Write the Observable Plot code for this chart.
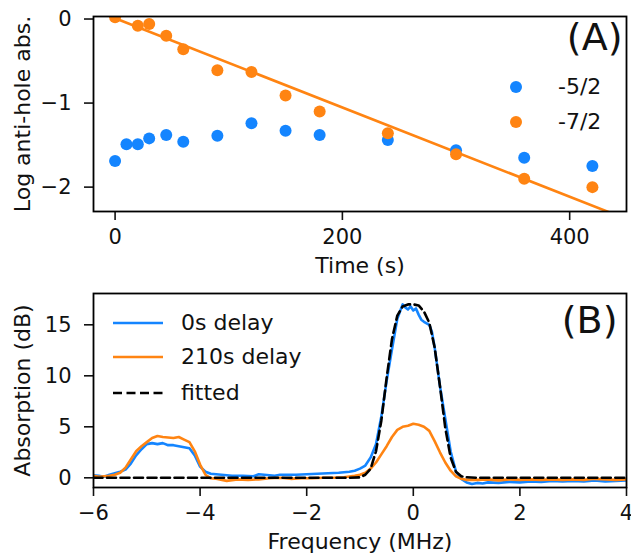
<!DOCTYPE html>
<html><head><meta charset="utf-8">
<script src="https://cdn.jsdelivr.net/npm/d3@7"></script>
<script src="https://cdn.jsdelivr.net/npm/@observablehq/plot@0.6"></script>
<style>
body{margin:0;background:#fff;font-family:"DejaVu Sans",sans-serif;}
#wrap{position:relative;width:631px;height:556px;overflow:hidden;background:#fff;}
#wrap svg{display:block;}
.leg{position:absolute;font-size:22px;color:#111;line-height:1;white-space:nowrap;}
.leg svg{position:absolute;overflow:visible;}
</style></head><body><div id="wrap"></div>
<script>
// ---------- Panel (A) data ----------
const timeBlue = [0,10,20,30,45,60,90,120,150,180,240,300,360,420];
const absBlue  = [-1.69,-1.49,-1.49,-1.42,-1.38,-1.46,-1.39,-1.24,-1.33,-1.38,-1.44,-1.56,-1.65,-1.75];
const timeOrange = [0,20,30,45,60,90,120,150,180,240,300,360,420];
const absOrange  = [0.02,-0.08,-0.06,-0.20,-0.36,-0.61,-0.63,-0.91,-1.10,-1.36,-1.61,-1.90,-2.00];
const fitTime = [0,450];
const fitAbs  = [0.01,-2.38];
const seriesA = ["-5/2","-7/2"];

// ---------- Panel (B) data ----------
const freq0 = [-6.0,-5.9,-5.8,-5.7,-5.6,-5.5,-5.4,-5.3,-5.2,-5.1,-5.0,-4.9,-4.8,-4.7,-4.6,-4.5,-4.4,-4.3,-4.2,-4.1,-4.0,-3.9,-3.8,-3.7,-3.6,-3.5,-3.4,-3.2,-3.0,-2.9,-2.8,-2.6,-2.5,-2.4,-2.2,-2.0,-1.8,-1.6,-1.4,-1.3,-1.2,-1.1,-1.0,-0.9,-0.8,-0.7,-0.6,-0.5,-0.4,-0.3,-0.2,-0.15,-0.1,-0.05,0.0,0.05,0.1,0.15,0.2,0.3,0.35,0.4,0.5,0.6,0.7,0.8,0.9,1.0,1.1,1.2,1.3,1.4,1.6,1.8,2.0,2.2,2.4,2.6,2.8,3.0,3.2,3.4,3.6,3.8,4.0];
const abs0  = [0.25,0.2,0.1,0.3,0.45,0.6,0.8,1.4,2.2,2.8,3.3,3.4,3.3,3.4,3.2,3.2,3.1,3.0,2.9,2.2,1.1,0.6,0.4,0.35,0.3,0.25,0.2,0.2,0.15,0.35,0.3,0.2,0.3,0.3,0.3,0.35,0.4,0.45,0.5,0.55,0.6,0.7,0.9,1.2,2.0,3.3,6.0,9.5,12.6,15.6,17.0,16.7,16.5,16.8,16.4,16.6,16.0,15.5,15.3,15.0,14.3,12.8,9.0,5.8,2.6,0.6,-0.1,-0.45,-0.6,-0.5,-0.55,-0.45,-0.5,-0.4,-0.45,-0.35,-0.4,-0.3,-0.35,-0.3,-0.35,-0.25,-0.35,-0.3,-0.25];
const freq210 = [-6.0,-5.9,-5.8,-5.7,-5.6,-5.5,-5.4,-5.3,-5.2,-5.1,-5.0,-4.9,-4.8,-4.7,-4.6,-4.5,-4.4,-4.3,-4.2,-4.1,-4.0,-3.9,-3.8,-3.7,-3.5,-3.3,-3.1,-2.9,-2.7,-2.5,-2.3,-2.1,-1.9,-1.7,-1.5,-1.3,-1.1,-1.0,-0.9,-0.8,-0.7,-0.6,-0.5,-0.4,-0.3,-0.2,-0.1,0.0,0.1,0.2,0.3,0.4,0.5,0.6,0.7,0.8,0.9,1.0,1.2,1.4,1.6,1.8,2.0,2.2,2.4,2.6,2.8,3.0,3.2,3.4,3.6,3.8,4.0];
const abs210  = [0.2,0.1,0.15,0.2,0.3,0.5,1.0,1.8,2.6,3.1,3.5,3.9,4.1,4.0,3.95,3.9,4.0,3.75,3.5,2.6,1.3,0.3,-0.05,-0.1,-0.3,-0.15,-0.2,-0.15,-0.05,0.0,-0.1,-0.05,-0.05,0.0,0.0,0.05,0.2,0.3,0.5,0.9,1.5,2.3,3.1,4.0,4.7,5.0,5.1,5.3,5.2,5.0,4.6,3.6,2.5,1.5,0.7,0.15,-0.1,-0.2,-0.2,-0.15,-0.25,-0.15,-0.2,-0.15,-0.2,-0.15,-0.2,-0.15,-0.2,-0.1,-0.15,-0.2,-0.15];
const freqFit = [-6.0,-1.2,-1.0,-0.9,-0.8,-0.7,-0.6,-0.5,-0.4,-0.3,-0.2,-0.1,0.0,0.1,0.2,0.3,0.4,0.5,0.6,0.7,0.8,0.9,1.0,1.2,4.0];
const absFit  = [0,0,0.05,0.3,0.9,2.6,5.6,9.8,13.6,15.9,16.8,17.0,17.0,16.9,16.3,15.2,12.8,9.0,4.9,2.0,0.6,0.15,0.05,0,0];
const seriesB = ["0s delay","210s delay","fitted"];

const ticksTime = [0,200,400];
const ticksLogAbs = [-2,-1,0];
const ticksFreq = [-6,-4,-2,0,2,4];
const ticksAbsorp = [0,5,10,15];

const BLUE = "#1485ff", ORANGE = "#ff8412";
const zip = (xs, ys) => xs.map((x, i) => ({x, y: ys[i]}));
const fmt = d3.format("d");
const baseStyle = {fontFamily: "'DejaVu Sans', sans-serif", fontSize: "21px", color: "#111", background: "white", overflow: "visible"};

const p1 = Plot.plot({
  width: 631, height: 275,
  marginTop: 16, marginLeft: 93, marginRight: 5, marginBottom: 64,
  style: baseStyle,
  x: {domain: [-19, 450]},
  y: {domain: [-2.29, 0.03]},
  marks: [
    Plot.axisX({ticks: ticksTime, tickSize: 9, tickPadding: 9, tickFormat: fmt, label: null, fontSize: 21, strokeWidth: 1.6}),
    Plot.axisY({ticks: ticksLogAbs, tickSize: 9, tickPadding: 13, tickFormat: fmt, label: null, fontSize: 21, strokeWidth: 1.6}),
    Plot.line(zip(fitTime, fitAbs), {x: "x", y: "y", stroke: ORANGE, strokeWidth: 2.6, clip: true}),
    Plot.dot(zip(timeBlue, absBlue), {x: "x", y: "y", r: 6, fill: BLUE, clip: true}),
    Plot.dot(zip(timeOrange, absOrange), {x: "x", y: "y", r: 6, fill: ORANGE, clip: true}),
    Plot.frame({stroke: "#000", strokeWidth: 1.8}),
    Plot.text(["Time (s)"], {text: d => d, frameAnchor: "bottom", lineAnchor: "top", dy: 46, fontSize: 22, fill: "#111"}),
    Plot.text(["Log anti-hole abs."], {text: d => d, frameAnchor: "left", textAnchor: "middle", rotate: -90, dx: -71, fontSize: 22, fill: "#111"}),
    Plot.text(["(A)"], {text: d => d, frameAnchor: "top-right", textAnchor: "end", lineAnchor: "top", dx: -4, dy: 7, fontSize: 38, fill: "#111"})
  ]
});

const p2 = Plot.plot({
  width: 631, height: 281,
  marginTop: 18, marginLeft: 93, marginRight: 5, marginBottom: 69,
  style: baseStyle,
  x: {domain: [-6, 4]},
  y: {domain: [-0.95, 18.07]},
  marks: [
    Plot.axisX({ticks: ticksFreq, tickSize: 9, tickPadding: 9, tickFormat: fmt, label: null, fontSize: 21, strokeWidth: 1.6}),
    Plot.axisY({ticks: ticksAbsorp, tickSize: 9, tickPadding: 13, tickFormat: fmt, label: null, fontSize: 21, strokeWidth: 1.6}),
    Plot.line(zip(freq0, abs0), {x: "x", y: "y", stroke: BLUE, strokeWidth: 2.6, clip: true}),
    Plot.line(zip(freq210, abs210), {x: "x", y: "y", stroke: ORANGE, strokeWidth: 2.6, clip: true}),
    Plot.line(zip(freqFit, absFit), {x: "x", y: "y", stroke: "#000", strokeWidth: 2.6, strokeDasharray: "9,4.5", clip: true}),
    Plot.frame({stroke: "#000", strokeWidth: 1.8}),
    Plot.text(["Frequency (MHz)"], {text: d => d, frameAnchor: "bottom", lineAnchor: "top", dy: 46, fontSize: 22, fill: "#111"}),
    Plot.text(["Absorption (dB)"], {text: d => d, frameAnchor: "left", textAnchor: "middle", rotate: -90, dx: -71, fontSize: 22, fill: "#111"}),
    Plot.text(["(B)"], {text: d => d, frameAnchor: "top-right", textAnchor: "end", lineAnchor: "top", dx: -9, dy: 13, fontSize: 38, fill: "#111"})
  ]
});

const wrap = document.getElementById("wrap");
wrap.appendChild(p1);
wrap.appendChild(p2);

// Legend (A): markers + labels
const legA = [{c: BLUE, y: 87}, {c: ORANGE, y: 122}];
legA.forEach((o, i) => {
  const d = document.createElement("div");
  d.className = "leg";
  d.style.left = "509px"; d.style.top = (o.y - 11) + "px";
  d.innerHTML = `<svg width="14" height="14" style="left:0;top:4px"><circle cx="7" cy="7" r="6" fill="${o.c}"/></svg><span style="position:absolute;left:49px;top:0">${seriesA[i]}</span>`;
  wrap.appendChild(d);
});
// Legend (B): line swatches + labels
const legB = [{c: BLUE, y: 323, dash: null}, {c: ORANGE, y: 357, dash: null}, {c: "#000", y: 393, dash: "9,4.5"}];
legB.forEach((o, i) => {
  const d = document.createElement("div");
  d.className = "leg";
  d.style.left = "113px"; d.style.top = (o.y - 11) + "px";
  d.innerHTML = `<svg width="50" height="6" style="left:0;top:8px"><line x1="0" x2="50" y1="3" y2="3" stroke="${o.c}" stroke-width="2.6" ${o.dash ? `stroke-dasharray="${o.dash}"` : ""}/></svg><span style="position:absolute;left:68px;top:0">${seriesB[i]}</span>`;
  wrap.appendChild(d);
});
</script>
</body></html>
